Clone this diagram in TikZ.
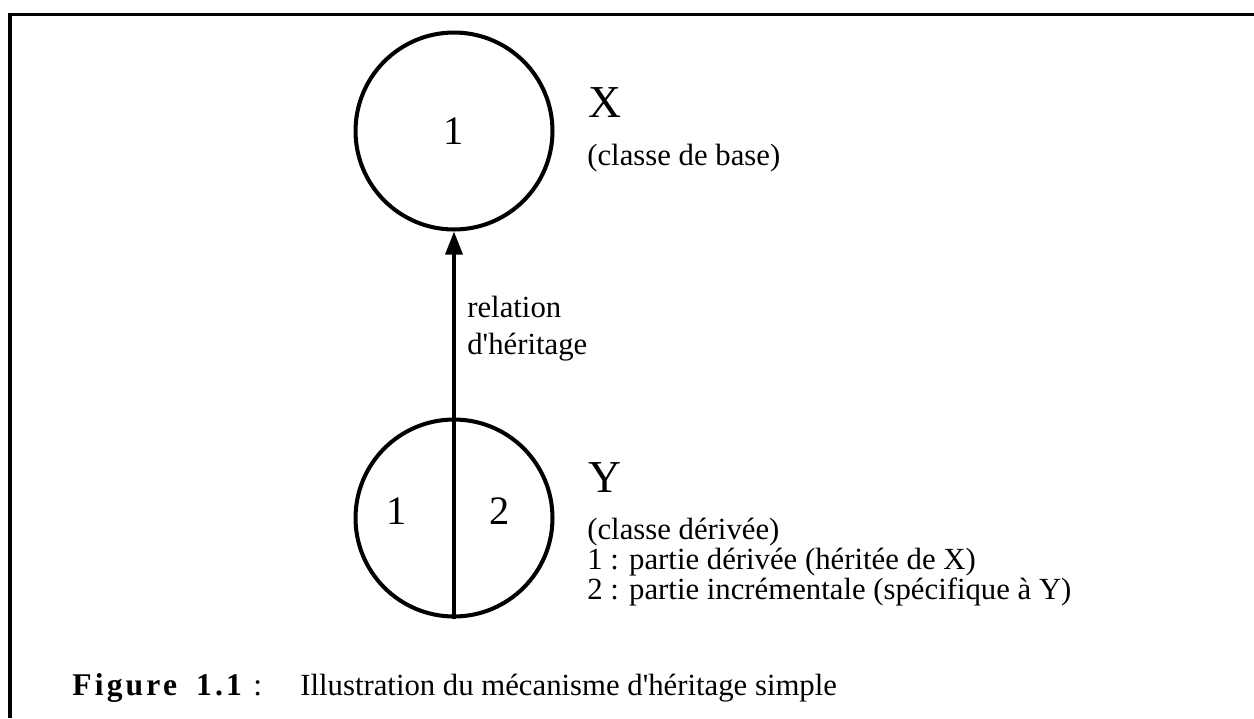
\documentclass[tikz,border=0pt]{standalone}
\usepackage{fontspec}
\setmainfont{Liberation Serif}
\newfontfamily\capbf{Liberation Serif Bold}[LetterSpace=10]
\usetikzlibrary{arrows.meta}
\begin{document}
\begin{tikzpicture}[x=0.02cm,y=-0.02cm,
  circ/.style={draw,circle,line width=2.3pt,minimum size=3.94cm,inner sep=0pt,font=\fontsize{23}{27}\selectfont},
  digit/.style={inner sep=0pt,font=\fontsize{23}{27}\selectfont},
  txt/.style={anchor=base west,inner sep=0pt,font=\fontsize{17.5}{21}\selectfont},
  big/.style={anchor=base west,inner sep=0pt,font=\fontsize{26}{31}\selectfont},
  arr/.style={line width=2pt,-{Triangle[length=0.46cm,width=0.34cm]}},
  frame/.style={line width=2.2pt}]
\useasboundingbox (0,0) rectangle (1254,718);
\draw[frame] (10,718) -- (10,14.5) -- (1254,14.5);
\node[circ] (X) at (454,131) {1};
\node[circ] (Y) at (454,518) {};
\node[digit] (y1) at (397,511) {1};
\node[digit] (y2) at (500,511) {2};
\draw[arr] (Y.south) -- (X.south);
\node[big] (xl) at (588,117) {X};
\node[txt] (xs) at (587,165) {(classe de base)};
\node[txt] (r1) at (467,317) {relation};
\node[txt] (r2) at (467,354) {d\textquotesingle héritage};
\node[big] (yl) at (588,492) {Y};
\node[txt] (ys1) at (587,539) {(classe dérivée)};
\node[txt] (ys2) at (587,569) {1 : partie dérivée (héritée de X)};
\node[txt] (ys3) at (587,599) {2 : partie incrémentale (spécifique à Y)};
\node[anchor=base west,inner sep=0pt,font=\capbf\fontsize{18}{21}\selectfont] (cap) at (72,695) {Figure\hspace{0.6em}1.1};
\node[anchor=base west,inner sep=0pt,font=\fontsize{18}{21}\selectfont] (colon) at (253,695) {:};
\node[anchor=base west,inner sep=0pt,font=\fontsize{17.5}{21}\selectfont] (capt) at (300,695) {Illustration du mécanisme d\textquotesingle héritage simple};
\end{tikzpicture}
\end{document}
